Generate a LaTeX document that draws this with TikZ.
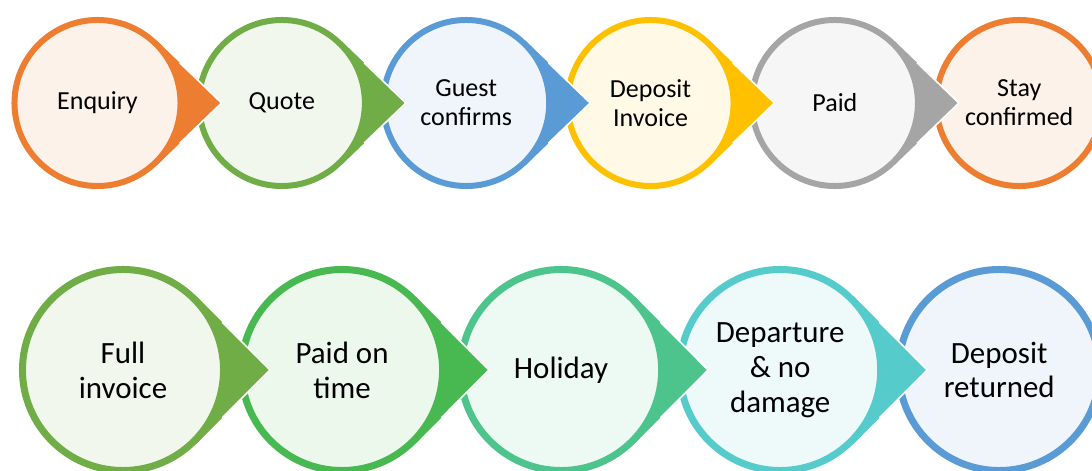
\documentclass[tikz,border=0pt]{standalone}
\usepackage{fontspec}
\setmainfont{Carlito}
\usetikzlibrary{positioning,calc}
\definecolor{ora}{HTML}{ED7D31}
\definecolor{olive}{HTML}{70AD47}
\definecolor{blu}{HTML}{5B9BD5}
\definecolor{gld}{HTML}{FFC000}
\definecolor{gry}{HTML}{A5A5A5}
\definecolor{grn}{HTML}{47B950}
\definecolor{sea}{HTML}{4CC48C}
\definecolor{cyn}{HTML}{55CBCC}
\tikzset{
    stage/.style={circle, draw=#1, fill=#1!10, inner sep=0pt, align=center, text=black},
    toprow/.style={minimum size=4.15cm, line width=0.15cm, font=\fontsize{18.5pt}{20.6pt}\selectfont},
    lowrow/.style={minimum size=5.025cm, line width=0.175cm, font=\fontsize{22pt}{24.8pt}\selectfont},
    tipedge/.style={white, line width=0.04cm, line join=miter}
}
% pointer of a stage: node, colour, tip distance, tangent angle, inner radius
\newcommand{\tipfill}[5]{%
    \coordinate (#1-tip) at ([shift={(#3,0)}]#1.center);
    \fill[#2] (#1.-#4) -- (#1-tip) -- (#1.#4) -- ([shift={(#4:#5)}]#1.center) arc[start angle=#4, end angle=-#4, radius=#5] -- cycle;
    \draw[tipedge] ($(#1.#4)!0.35!(#1-tip)$) -- (#1-tip) -- ($(#1.-#4)!0.35!(#1-tip)$);
}
\begin{document}
\begin{tikzpicture}[x=0.025cm, y=0.025cm]
\useasboundingbox (0,0) rectangle (1092,470);
% first row
\node[stage=ora, toprow] (enquiry) at (97.5,367) {Enquiry};
\node[stage=olive, toprow, right=0.3075cm of enquiry] (quote) {Quote};
\node[stage=blu, toprow, right=0.3075cm of quote] (guest) {Guest\\confirms};
\node[stage=gld, toprow, right=0.3075cm of guest] (depinv) {Deposit\\Invoice};
\node[stage=gry, toprow, right=0.3075cm of depinv] (paid) {Paid};
\node[stage=ora, toprow, right=0.3075cm of paid] (stay) {Stay\\confirmed};
% second row
\node[stage=olive, lowrow] (fullinv) at (123,100) {Full\\invoice};
\node[stage=grn, lowrow, right=0.275cm of fullinv] (ontime) {Paid on\\time};
\node[stage=sea, lowrow, right=0.275cm of ontime] (holiday) {Holiday};
\node[stage=cyn, lowrow, right=0.275cm of holiday] (departure) {Departure\\\& no\\damage};
\node[stage=blu, lowrow, right=0.275cm of departure] (depret) {Deposit\\returned};
% pointers
\tipfill{enquiry}{ora}{124}{46}{2.075cm}
\tipfill{quote}{olive}{124}{46}{2.075cm}
\tipfill{guest}{blu}{124}{46}{2.075cm}
\tipfill{depinv}{gld}{124}{46}{2.075cm}
\tipfill{paid}{gry}{124}{46}{2.075cm}
\tipfill{fullinv}{olive}{147}{45}{2.5125cm}
\tipfill{ontime}{grn}{147}{45}{2.5125cm}
\tipfill{holiday}{sea}{147}{45}{2.5125cm}
\tipfill{departure}{cyn}{147}{45}{2.5125cm}
\end{tikzpicture}
\end{document}
